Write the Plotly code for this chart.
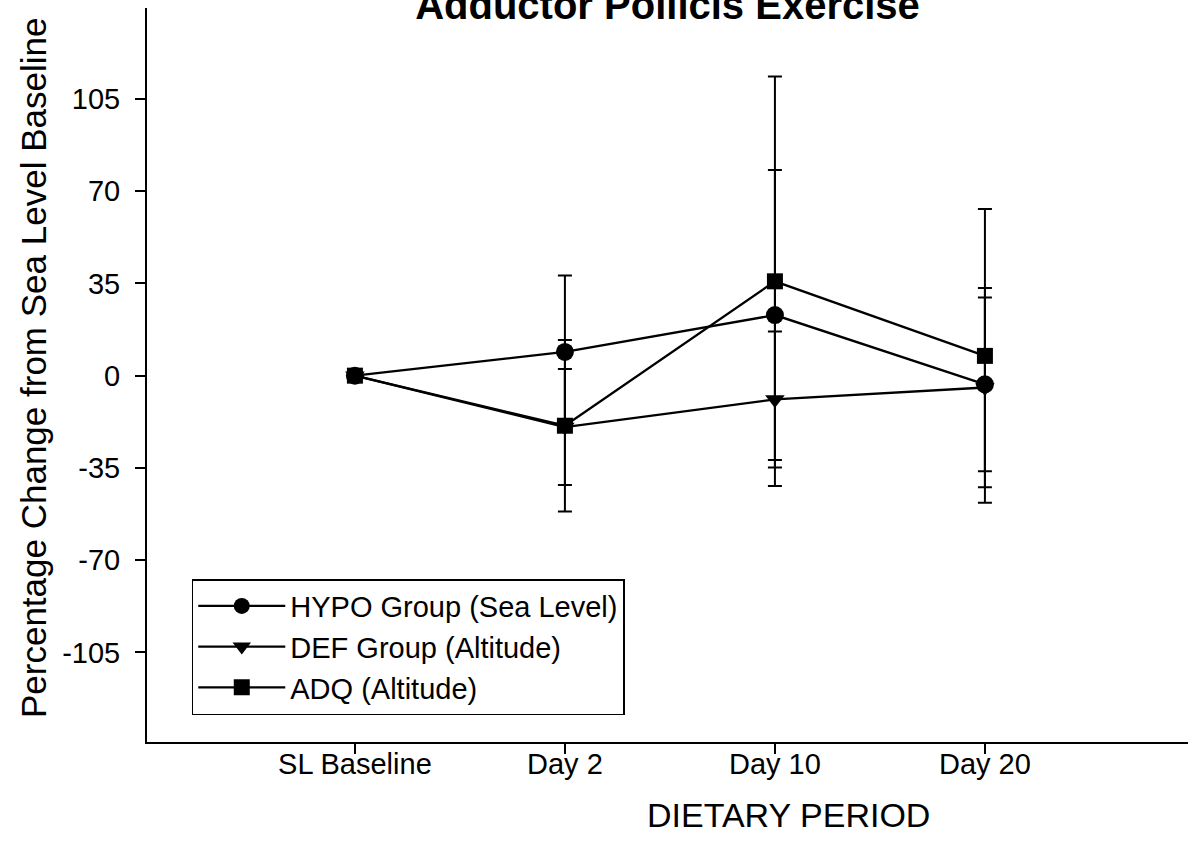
import plotly.graph_objects as go

# Dietary periods on the x axis
categories = ["SL Baseline", "Day 2", "Day 10", "Day 20"]

# Percentage change from sea-level baseline (mean and error)
hypo_mean = [0, 9.0, 23.0, -3.3]
hypo_err = [0, 29.0, 55.0, 33.0]

def_mean = [0, -19.5, -9.0, -4.5]
def_err = [0, 22.0, 25.8, 37.8]

adq_mean = [0, -19.0, 35.8, 7.5]
adq_err = [0, 32.5, 77.7, 55.7]

series_names = ["HYPO Group (Sea Level)", "DEF Group (Altitude)", "ADQ (Altitude)"]
series_symbols = ["circle", "triangle-down", "square"]
series_sizes = [18, 17, 16]

y_tick_vals = [-105, -70, -35, 0, 35, 70, 105]
y_tick_text = ["-105", "-70", "-35", "0", "35", "70", "105"]

FONT = "Liberation Sans, Arial, sans-serif"

fig = go.Figure()

for name, sym, size, mean, err in zip(
    series_names, series_symbols, series_sizes,
    [hypo_mean, def_mean, adq_mean], [hypo_err, def_err, adq_err],
):
    fig.add_trace(go.Scatter(
        x=categories,
        y=mean,
        name=name,
        mode="lines+markers",
        line=dict(color="black", width=2.3),
        marker=dict(symbol=sym, size=size, color="black",
                    line=dict(width=0)),
        error_y=dict(type="data", array=err, visible=True,
                     color="black", thickness=2, width=7),
    ))

fig.update_layout(
    width=1188,
    height=856,
    paper_bgcolor="white",
    plot_bgcolor="white",
    margin=dict(l=147, r=0, t=8, b=114),
    font=dict(family=FONT, color="black", size=29),
    title=dict(
        text="<b>Adductor Pollicis Exercise</b>",
        font=dict(family=FONT, size=40, color="black"),
        x=0.5, xref="paper", xanchor="center",
        y=0.994, yref="container", yanchor="middle",
    ),
    showlegend=True,
    legend=dict(
        x=0.043, y=0.222, xanchor="left", yanchor="top",
        bgcolor="white", bordercolor="black", borderwidth=1.5,
        font=dict(family=FONT, size=29, color="black"),
        itemwidth=87,
        tracegroupgap=0,
    ),
    xaxis=dict(
        type="category",
        range=[-0.99, 3.967],
        showline=True, linecolor="black", linewidth=2,
        ticks="outside", ticklen=10, tickwidth=2, tickcolor="black",
        ticklabelstandoff=-15,
        tickfont=dict(family=FONT, size=29, color="black"),
        showgrid=False, zeroline=False,
    ),
    yaxis=dict(
        range=[-139, 139.5],
        tickvals=y_tick_vals, ticktext=y_tick_text,
        showline=True, linecolor="black", linewidth=2,
        ticks="outside", ticklen=10, tickwidth=2, tickcolor="black",
        ticklabelstandoff=9,
        tickfont=dict(family=FONT, size=29, color="black"),
        showgrid=False, zeroline=False,
    ),
    annotations=[
        dict(
            text="Percentage Change from Sea Level Baseline",
            textangle=-90,
            x=-0.1095, y=0.5095, xref="paper", yref="paper",
            xanchor="center", yanchor="middle", showarrow=False,
            font=dict(family=FONT, size=35, color="black"),
        ),
        dict(
            text="DIETARY PERIOD",
            x=0.6167, y=-0.0995, xref="paper", yref="paper",
            xanchor="center", yanchor="middle", showarrow=False,
            font=dict(family=FONT, size=34, color="black"),
        ),
    ],
)

fig.write_html("out.html")
